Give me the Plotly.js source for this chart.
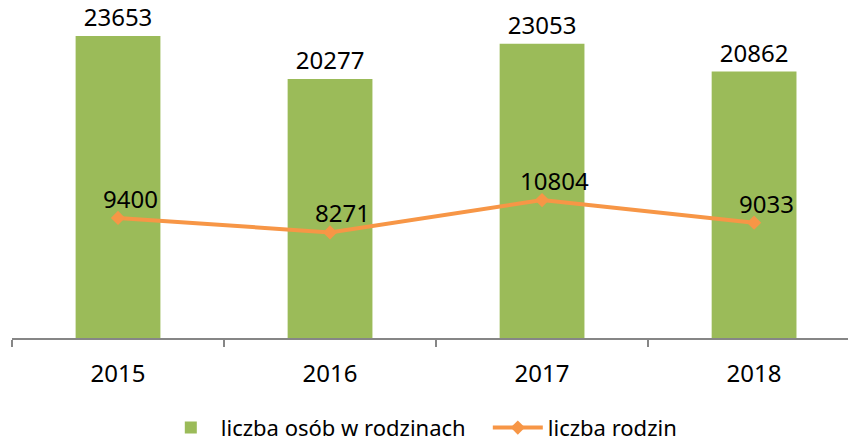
<!DOCTYPE html>
<html><head><meta charset="utf-8">
<script src="https://cdn.plot.ly/plotly-3.0.1.min.js"></script>
<style>html,body{margin:0;padding:0;background:#fff}</style>
</head><body>
<div id="chart" style="width:848px;height:441px"></div>
<script>
const years = ['2015', '2016', '2017', '2018'];
const persons = [23653, 20277, 23053, 20862];
const families = [9400, 8271, 10804, 9033];
const seriesNames = ['liczba osób w rodzinach', 'liczba rodzin'];

const FONT = 'Noto Sans, Open Sans, sans-serif';

const traces = [
  {
    type: 'bar', x: years, y: persons, name: seriesNames[0],
    marker: {color: '#9BBB59'}, width: 0.40,
    text: persons.map(String), textposition: 'outside', cliponaxis: false,
    textfont: {family: FONT, size: 24, color: '#000'},
    hoverinfo: 'none'
  },
  {
    type: 'scatter', mode: 'lines+markers', x: years, y: families, name: seriesNames[1],
    line: {color: '#F79646', width: 4},
    marker: {symbol: 'diamond', size: 11, color: '#F79646'},
    hoverinfo: 'none'
  }
];

const annotations = years.map((yr, i) => ({
  x: i, y: families[i], xref: 'x', yref: 'y',
  text: String(families[i]), showarrow: false,
  yanchor: 'bottom', yshift: 1, xshift: 12,
  font: {family: FONT, size: 24, color: '#000'}
}));

const layout = {
  width: 848, height: 441,
  margin: {l: 12, r: 0, t: 10, b: 103, autoexpand: false},
  paper_bgcolor: '#fff', plot_bgcolor: '#fff',
  font: {family: FONT, size: 20, color: '#000'},
  xaxis: {
    type: 'category', range: [-0.5, 3.443],
    showline: true, linecolor: '#868686', linewidth: 1.5,
    ticks: 'outside', tickson: 'boundaries', ticklen: 7, tickcolor: '#868686', tickwidth: 1.5,
    ticklabelstandoff: 14,
    tickfont: {family: FONT, size: 24, color: '#000'},
    showgrid: false, zeroline: false, fixedrange: true, automargin: false
  },
  yaxis: {
    range: [0, 25687], visible: false, showgrid: false, zeroline: false, fixedrange: true
  },
  showlegend: true,
  legend: {
    orientation: 'h', x: 0.178, xanchor: 'left', yref: 'container', y: 0.03, yanchor: 'middle',
    font: {family: FONT, size: 22, color: '#000'},
    itemwidth: 50, entrywidth: 262, traceorder: 'normal'
  },
  annotations: annotations
};

Plotly.newPlot('chart', traces, layout, {displayModeBar: false, staticPlot: true});
</script>
</body></html>
